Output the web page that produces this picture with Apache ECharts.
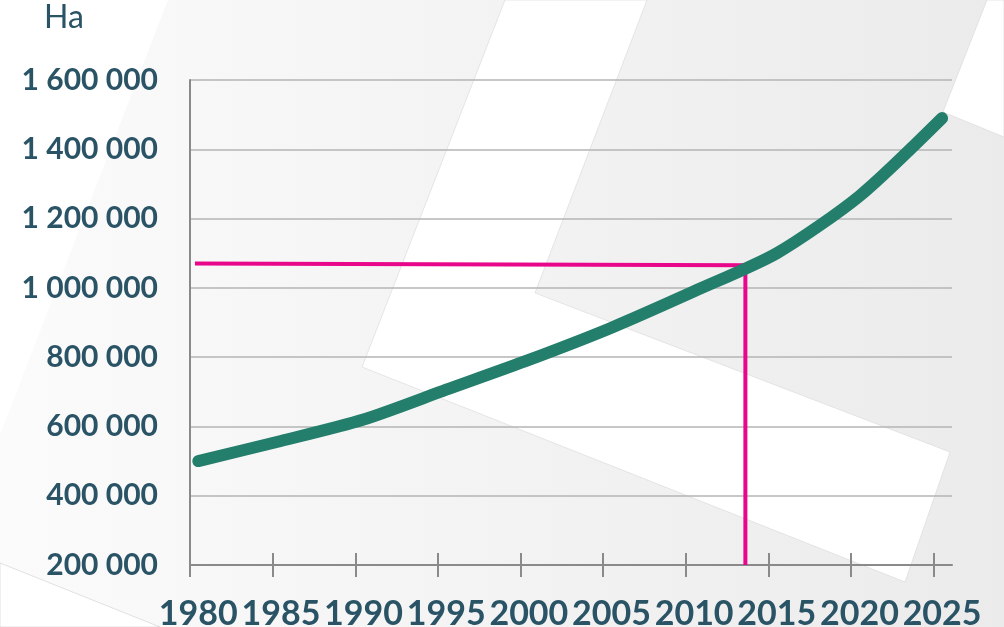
<!DOCTYPE html>
<html>
<head>
<meta charset="utf-8">
<script src="https://cdn.jsdelivr.net/npm/echarts@6/dist/echarts.min.js"></script>
<style>html,body{margin:0;padding:0;background:#fff}#c{width:1004px;height:627px}</style>
</head>
<body>
<div id="c"></div>
<script>
// Data
var years = [1980, 1985, 1990, 1995, 2000, 2005, 2010, 2015, 2020, 2025];
var hectares = [500000, 558000, 620000, 706000, 792000, 885000, 990000, 1100000, 1265000, 1490000];
var markerYears = [1980.3, 2013.6, 2013.6];
var markerValues = [1070000, 1065000, 200000];
var yTicks = [200000, 400000, 600000, 800000, 1000000, 1200000, 1400000, 1600000];
var unitLabel = 'Ha';

var labelColor = '#2a5466';
var axisGray = '#8a8a8a';

function fmt(v) {
  return String(v).replace(/\B(?=(\d{3})+(?!\d))/g, ' ');
}

var chart = echarts.init(document.getElementById('c'), null, {renderer: 'canvas'});

function poly(points, fill, stroke) {
  return {
    type: 'polygon', silent: true, z: -100,
    shape: {points: points},
    style: {fill: fill, stroke: stroke || null, lineWidth: stroke ? 0.6 : 0}
  };
}

var option = {
  animation: false,
  backgroundColor: '#ffffff',
  title: {
    text: unitLabel, left: 44, top: 2, padding: 0,
    textStyle: {fontFamily: 'Lato', fontWeight: 'normal', fontSize: 32, color: labelColor}
  },
  graphic: {
    elements: [
      {
        type: 'rect', silent: true, z: -110,
        shape: {x: 0, y: 0, width: 1004, height: 627},
        style: {
          fill: new echarts.graphic.LinearGradient(0, 0, 1, 0, [
            {offset: 0, color: '#fbfbfb'},
            {offset: 1, color: '#ebebeb'}
          ])
        }
      },
      poly([[0, 0], [168, 0], [0, 435]], '#ffffff'),
      poly([[0, 563], [160, 627], [0, 627]], '#ffffff', '#cfcfcf'),
      poly([[505, 0], [647, 0], [535, 293], [950, 452], [905, 582], [362, 367]], '#ffffff', '#d6d6d6'),
      poly([[987, 0], [1004, 0], [1004, 137], [943, 112]], '#ffffff', '#d6d6d6')
    ]
  },
  grid: {left: 190, right: 52, top: 80, bottom: 62, containLabel: false, outerBoundsMode: 'none'},
  xAxis: [
    {
      type: 'value', min: 1979.5, max: 2025.6,
      axisLine: {show: false}, axisTick: {show: false}, splitLine: {show: false},
      axisLabel: {
        customValues: years, margin: 32,
        fontFamily: 'Lato', fontWeight: 'bold', fontSize: 34, color: labelColor,
        formatter: function (v) { return String(v); }
      }
    },
    {
      type: 'value', min: 1980, max: 2026.1, position: 'bottom',
      axisLine: {show: true, lineStyle: {color: axisGray, width: 2}},
      axisTick: {show: true, customValues: years, length: 12, lineStyle: {color: axisGray, width: 2}},
      axisLabel: {show: false}, splitLine: {show: false}
    },
    {
      type: 'value', min: 1980, max: 2026.1, position: 'bottom',
      axisLine: {show: false},
      axisTick: {show: true, inside: true, customValues: years, length: 12, lineStyle: {color: axisGray, width: 2}},
      axisLabel: {show: false}, splitLine: {show: false}
    }
  ],
  yAxis: {
    type: 'value', min: yTicks[0], max: yTicks[yTicks.length - 1], interval: 200000,
    axisLine: {show: true, lineStyle: {color: axisGray, width: 2}},
    axisTick: {show: false},
    splitLine: {show: true, lineStyle: {color: '#b5b5b5', width: 1.5}},
    axisLabel: {
      margin: 32, fontFamily: 'Lato', fontWeight: 'bold', fontSize: 30, color: labelColor,
      formatter: function (v) { return fmt(v); }
    }
  },
  series: [
    {
      type: 'line', xAxisIndex: 1, z: 3,
      data: markerYears.map(function (y, i) { return [y, markerValues[i]]; }),
      symbol: 'none',
      lineStyle: {color: '#e8078a', width: 4, join: 'miter'}
    },
    {
      type: 'line', xAxisIndex: 0, z: 4,
      data: years.map(function (y, i) { return [y, hectares[i]]; }),
      symbol: 'none', smooth: 0.25,
      lineStyle: {color: '#237e6b', width: 12, cap: 'round', join: 'round'}
    }
  ]
};
chart.setOption(option);
</script>
</body>
</html>
